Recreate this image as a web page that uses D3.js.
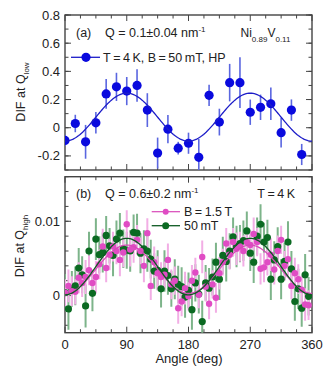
<!DOCTYPE html>
<html><head><meta charset="utf-8">
<script src="https://cdn.jsdelivr.net/npm/d3@7"></script>
<style>
body{margin:0;background:#fff;}
svg{display:block;font-family:"Liberation Sans",Arial,sans-serif;}
</style></head>
<body>
<svg id="c" width="332" height="379"></svg>
<script>
// ---------- data ----------
const anglesA = [0,15,30,45,60,75,90,105,120,135,150,165,180,195,210,225,240,255,270,285,300,315,330,345];
const difLow  = [-0.09,0.03,-0.10,0.035,0.24,0.29,0.26,0.30,0.125,-0.18,-0.01,-0.145,-0.11,-0.21,0.23,0.04,0.32,0.32,0.11,0.145,0.17,-0.035,0.125,-0.19];
const errLow  = [0.04,0.062,0.12,0.076,0.105,0.10,0.10,0.115,0.12,0.11,0.10,0.045,0.075,0.13,0.075,0.095,0.133,0.18,0.09,0.09,0.115,0.105,0.076,0.075];
const fitLow  = {offset:0.075, amp:0.17};

const anglesB = [0,5,10,15,20,25,30,35,40,45,50,55,60,65,70,75,80,85,90,95,100,105,110,115,120,125,130,135,140,145,150,155,160,165,170,175,180,185,190,195,200,205,210,215,220,225,230,235,240,245,250,255,260,265,270,275,280,285,290,295,300,305,310,315,320,325,330,335,340,345,350,355];
const difHighPink = [0.0004,0.0013,0.0006,0.0005,0.0024,0.0017,0.0025,0.0034,0.0017,0.0025,0.0042,0.0066,0.0037,0.0055,0.0066,0.0060,0.0048,0.0058,0.0096,0.0062,0.0065,0.0075,0.0060,0.0040,0.0084,0.0013,0.0045,0.0030,0.0025,0.0028,0.0048,0.0015,0.0020,-0.0017,-0.0008,0.0010,-0.0001,0.0020,0.0031,0.0001,0.0052,0.0012,-0.0011,0.0015,-0.0003,0.0030,0.0045,0.0070,0.0055,0.0072,0.0063,0.0066,0.0060,0.0072,0.0068,0.0083,0.0072,0.0036,0.0038,0.0045,0.0055,0.0035,0.0060,0.0075,0.0040,0.0049,0.0013,0.0030,0.0022,0.0008,-0.0012,-0.0013];
const errHighPink = [0.0018,0.0022,0.0020,0.0017,0.0021,0.0019,0.0023,0.0020,0.0018,0.0022,0.0020,0.0024,0.0019,0.0021,0.0020,0.0018,0.0022,0.0020,0.0019,0.0023,0.0021,0.0020,0.0018,0.0022,0.0020,0.0019,0.0021,0.0023,0.0020,0.0018,0.0022,0.0020,0.0019,0.0021,0.0020,0.0022,0.0019,0.0021,0.0020,0.0018,0.0022,0.0020,0.0021,0.0019,0.0020,0.0022,0.0018,0.0021,0.0020,0.0019,0.0022,0.0020,0.0021,0.0018,0.0020,0.0022,0.0019,0.0021,0.0020,0.0018,0.0022,0.0020,0.0021,0.0019,0.0020,0.0022,0.0018,0.0021,0.0020,0.0019,0.0022,0.0020];
const difHighGreen = [0.0004,-0.0018,0.0009,0.0013,0.0037,0.0028,-0.0014,0.0060,0.0003,0.0076,0.0055,0.0058,0.0081,0.0067,0.0054,0.0076,0.0084,0.0063,0.0061,0.0060,0.0085,0.0084,0.0057,0.0063,0.0060,0.0049,0.0033,0.0034,0.0009,0.0033,0.0027,0.0009,0.0022,0.0015,0.0012,-0.0002,0.0007,-0.0019,0.0017,0.0002,-0.0035,0.0017,0.0010,0.0025,0.0045,0.0022,0.0054,0.0046,0.0060,0.0079,0.0066,0.0070,0.0074,0.0087,0.0057,0.0045,0.0080,0.0096,0.0072,0.0078,0.0022,0.0048,0.0066,0.0022,0.0046,0.0072,0.0036,-0.0008,0.0009,-0.0017,0.0028,-0.0001];
const errHighGreen = [0.0025,0.0028,0.0024,0.0026,0.0027,0.0025,0.0029,0.0026,0.0024,0.0028,0.0025,0.0027,0.0026,0.0024,0.0028,0.0025,0.0027,0.0026,0.0025,0.0028,0.0024,0.0026,0.0027,0.0025,0.0028,0.0026,0.0024,0.0027,0.0025,0.0028,0.0026,0.0024,0.0027,0.0025,0.0026,0.0028,0.0024,0.0027,0.0025,0.0026,0.0028,0.0024,0.0027,0.0025,0.0026,0.0028,0.0025,0.0027,0.0024,0.0026,0.0028,0.0025,0.0027,0.0026,0.0024,0.0028,0.0025,0.0027,0.0026,0.0024,0.0028,0.0025,0.0026,0.0027,0.0025,0.0028,0.0024,0.0026,0.0027,0.0025,0.0028,0.0026];
const fitPink  = {offset:0.00355, amp:0.00325};
const fitGreen = {offset:0.0039, amp:0.0038};

const xTicks = [0,90,180,270,360];
const xMinor = d3.range(0,361,22.5);
const yTicksA = [-0.2,0,0.2,0.4,0.6,0.8];
const yTickLabelsA = ["-0.2","0","0.2","0.4","0.6","0.8"];
const yMinorA = d3.range(-0.3,0.81,0.1);
const yTicksB = [0,0.01];
const yTickLabelsB = ["0","0.01"];
const yMinorB = d3.range(-0.004,0.0161,0.002);

// ---------- layout ----------
const svg = d3.select("#c");
const L = 65, R = 312;
const x = d3.scaleLinear().domain([0,360]).range([L,R]);
const yA = d3.scaleLinear().domain([-0.3,0.8]).range([170,15]);
const yB = d3.scaleLinear().domain([-0.005,0.016]).range([332.7,176.7]);
const TXT = "#222", FRAME = "#444";

function frame(y, yTicks, yLabels, yMinor, showX){
  const g = svg.append("g");
  const [b,t] = y.range();
  const cid = "clip"+Math.round(t);
  svg.append("clipPath").attr("id",cid).append("rect").attr("x",L).attr("y",t).attr("width",R-L).attr("height",b-t);
  const tk = (x1,y1,x2,y2,w)=>g.append("line").attr("x1",x1).attr("y1",y1).attr("x2",x2).attr("y2",y2).attr("stroke",FRAME).attr("stroke-width",w||1);
  xMinor.forEach(v=>{ const major = v%90===0; const len = major?6:3.5;
    tk(x(v),b,x(v),b-len); tk(x(v),t,x(v),t+len);});
  yMinor.forEach(v=>{ tk(L,y(v),L+3.5,y(v)); tk(R,y(v),R-3.5,y(v)); });
  yTicks.forEach(v=>{ tk(L,y(v),L+6,y(v)); tk(R,y(v),R-6,y(v)); });
  yTicks.forEach((v,i)=>{ g.append("text").attr("x",L-5).attr("y",y(v)+4.5).attr("text-anchor","end")
    .attr("font-size",13).attr("fill",TXT).text(yLabels[i]); });
  if(showX){ xTicks.forEach(v=>{ g.append("text").attr("x",x(v)).attr("y",b+16).attr("text-anchor","middle")
    .attr("font-size",13).attr("fill",TXT).text(v); }); }
  g.append("rect").attr("x",L).attr("y",t).attr("width",R-L).attr("height",b-t).attr("fill","none").attr("stroke",FRAME).attr("stroke-width",1.4);
  return cid;
}

function bars(y, cid, xs, vals, errs, ec, ew){
  svg.append("g").attr("clip-path",`url(#${cid})`).selectAll("line").data(xs).join("line")
    .attr("x1",d=>x(d)).attr("x2",d=>x(d))
    .attr("y1",(d,i)=>y(vals[i]-errs[i])).attr("y2",(d,i)=>y(vals[i]+errs[i])).attr("stroke",ec).attr("stroke-width",ew);
}
function dots(y, cid, xs, vals, mk, r){
  svg.append("g").attr("clip-path",`url(#${cid})`).selectAll("circle").data(xs).join("circle")
    .attr("cx",d=>x(d)).attr("cy",(d,i)=>y(vals[i])).attr("r",r).attr("fill",mk);
}
function fit(y, cid, p, color, w){
  const pts = d3.range(0,360.1,2);
  svg.append("path").attr("clip-path",`url(#${cid})`).datum(pts)
    .attr("d", d3.line().x(d=>x(d)).y(d=>y(p.offset - p.amp*Math.cos(2*d*Math.PI/180))))
    .attr("fill","none").attr("stroke",color).attr("stroke-width",w);
}

// ---------- panel a ----------
const cA = frame(yA, yTicksA, yTickLabelsA, yMinorA, false);
bars(yA, cA, anglesA, difLow, errLow, "#5a66e0", 1.6);
dots(yA, cA, anglesA, difLow, "#0a0ade", 4.6);
fit(yA, cA, fitLow, "#1c1cc8", 1.3);

// ---------- panel b ----------
const cB = frame(yB, yTicksB, yTickLabelsB, yMinorB, true);
bars(yB, cB, anglesB, difHighGreen, errHighGreen, "#7db48a", 2);
bars(yB, cB, anglesB, difHighPink, errHighPink, "#f2aee5", 2);
dots(yB, cB, anglesB, difHighGreen, "#0b6a22", 3.6);
dots(yB, cB, anglesB, difHighPink, "#e04cc4", 3.2);
fit(yB, cB, fitPink, "#d848b8", 1.2);
fit(yB, cB, fitGreen, "#0d5a22", 1.3);

// ---------- texts ----------
const T = (xx,yy,size,anchor)=>svg.append("text").attr("x",xx).attr("y",yy).attr("font-size",size).attr("fill",TXT).attr("text-anchor",anchor||"start");
T(76,36.7,12.5).text("(a)");
let q = T(105,36.7,12.5); q.append("tspan").text("Q = 0.1±0.04 nm"); q.append("tspan").attr("dy",-5).attr("font-size",8).text("-1");
let ni = T(240.5,36.7,12); ni.append("tspan").text("Ni"); ni.append("tspan").attr("dy",5).attr("font-size",8).text("0.89");
ni.append("tspan").attr("dy",-5).text("V"); ni.append("tspan").attr("dy",5).attr("font-size",8).text("0.11");
svg.append("line").attr("x1",71).attr("x2",100).attr("y1",57.3).attr("y2",57.3).attr("stroke","#1c1cc8").attr("stroke-width",1.3);
svg.append("circle").attr("cx",86).attr("cy",57.3).attr("r",4.6).attr("fill","#0a0ade");
T(103,61.7,12.5).text("T\u2009=\u20094\u2009K, B\u2009=\u200950\u2009mT, HP");

T(76,198.3,12.5).text("(b)");
let qb = T(105,198.3,12.5); qb.append("tspan").text("Q = 0.6±0.2 nm"); qb.append("tspan").attr("dy",-5).attr("font-size",8).text("-1");
T(295,198.3,12.5,"end").text("T\u2009=\u20094\u2009K");
svg.append("line").attr("x1",151.7).attr("x2",180).attr("y1",211.7).attr("y2",211.7).attr("stroke","#d848b8").attr("stroke-width",1.2);
svg.append("circle").attr("cx",165.7).attr("cy",211.7).attr("r",3).attr("fill","#e04cc4");
T(184,216.2,12.5).text("B\u2009=\u20091.5\u2009T");
svg.append("line").attr("x1",151.7).attr("x2",180).attr("y1",225.7).attr("y2",225.7).attr("stroke","#0d5a22").attr("stroke-width",1.3);
svg.append("circle").attr("cx",165.7).attr("cy",225.7).attr("r",3.5).attr("fill","#0b6a22");
T(184,230.2,12.5).text("50\u2009mT");

T(189,362.5,13,"middle").text("Angle (deg)");
let la = svg.append("text").attr("transform","translate(25,92) rotate(-90)").attr("text-anchor","middle").attr("font-size",12.5).attr("fill",TXT);
la.append("tspan").text("DIF at Q"); la.append("tspan").attr("dy",4).attr("font-size",8).text("low");
let lb = svg.append("text").attr("transform","translate(23.5,246) rotate(-90)").attr("text-anchor","middle").attr("font-size",12.5).attr("fill",TXT);
lb.append("tspan").text("DIF at Q"); lb.append("tspan").attr("dy",4).attr("font-size",8).text("high");
</script>
</body></html>
